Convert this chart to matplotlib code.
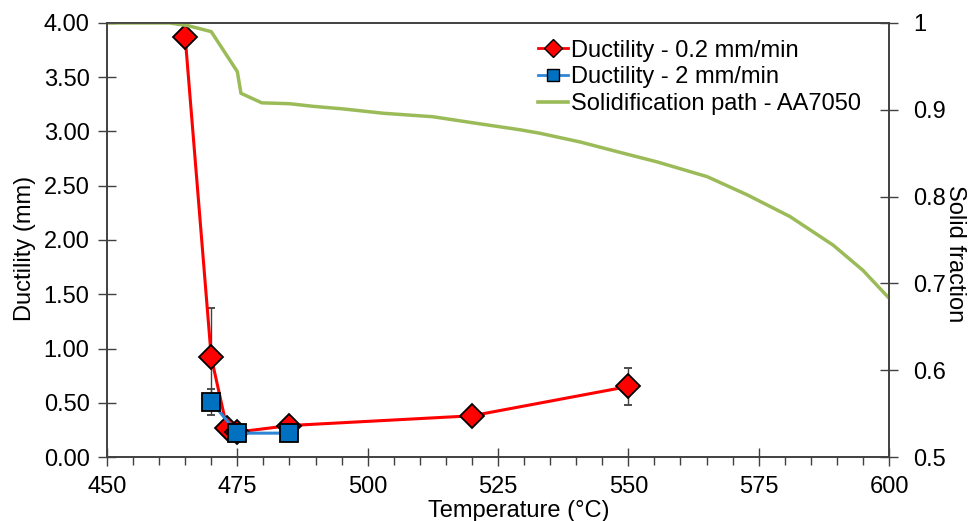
import matplotlib.pyplot as plt
from matplotlib.lines import Line2D
from matplotlib.ticker import MultipleLocator, FormatStrFormatter

plt.rcParams['font.family'] = ['Liberation Sans', 'DejaVu Sans']

# ductility at 0.2 mm/min
t_slow = [465, 470, 473, 475, 485, 520, 550]
d_slow = [3.87, 0.92, 0.27, 0.23, 0.29, 0.38, 0.65]
e_slow = [0, 0.45, 0, 0, 0, 0, 0.17]

# ductility at 2 mm/min
t_fast = [470, 475, 485]
d_fast = [0.51, 0.22, 0.22]
e_fast = [0.12, 0, 0]

# solidification path AA7050
t_sol = [450, 462, 465.5, 470, 475, 475.7, 479.7, 485, 489.5, 495.3, 503, 512.5,
         520.2, 529.2, 533, 540.7, 549, 555.5, 565.1, 572.8, 581, 589.3, 595, 600]
fs_sol = [1.0, 1.0, 0.997, 0.99, 0.944, 0.919, 0.908, 0.907, 0.904, 0.901, 0.896, 0.892,
          0.885, 0.877, 0.873, 0.863, 0.850, 0.840, 0.823, 0.802, 0.777, 0.744, 0.715, 0.683]

red = '#ff0000'
blue_line = '#2f86d6'
blue = '#0070c0'
green = '#9bbb59'

fig = plt.figure(figsize=(9.76, 5.21), dpi=100)
ax = fig.add_axes([0.1096, 0.1228, 0.8013, 0.8331])
ax2 = ax.twinx()

ax.errorbar(t_slow, d_slow, yerr=e_slow, color=red, lw=2.2, marker='D', ms=12,
            mfc=red, mec='black', mew=1.3, ecolor='#404040', elinewidth=1,
            capsize=3, zorder=3)
ax.errorbar(t_fast, d_fast, yerr=e_fast, color=blue_line, lw=2.2, marker='s', ms=13,
            mfc=blue, mec='black', mew=1.3, ecolor='#404040', elinewidth=1,
            capsize=3, zorder=4)
ax2.plot(t_sol, fs_sol, color=green, lw=2.5)

ax.set_xlim(450, 600)
ax.set_ylim(0, 4)
ax2.set_ylim(0.5, 1)
ax.xaxis.set_major_locator(MultipleLocator(25))
ax.xaxis.set_minor_locator(MultipleLocator(5))
ax.yaxis.set_major_locator(MultipleLocator(0.5))
ax.yaxis.set_major_formatter(FormatStrFormatter('%.2f'))
ax2.set_yticks([0.5, 0.6, 0.7, 0.8, 0.9, 1.0])
ax2.set_yticklabels(['0.5', '0.6', '0.7', '0.8', '0.9', '1'])

for a in (ax, ax2):
    for s in a.spines.values():
        s.set_color('#404040')
        s.set_linewidth(1.2)
ax.tick_params(axis='y', which='major', direction='inout', length=13, width=1,
               color='#404040', labelsize=17, pad=6)
ax.tick_params(axis='x', which='major', direction='inout', length=13, width=1,
               color='#404040', labelsize=17, pad=7)
ax.tick_params(axis='x', which='minor', direction='out', length=6, width=1, color='#404040')
ax.tick_params(axis='y', which='minor', length=0)
ax2.tick_params(axis='y', which='major', direction='inout', length=13, width=1,
                color='#404040', labelsize=17, pad=11)
ax2.tick_params(axis='y', which='minor', length=0)

ax.set_xlabel('Temperature (°C)', fontsize=17, labelpad=0)
ax.xaxis.set_label_coords(0.527, -0.1)
ax.set_ylabel('Ductility (mm)', fontsize=17)
ax.yaxis.set_label_coords(-0.091, 0.48)
ax2.set_ylabel('Solid fraction', fontsize=17, rotation=270)
ax2.yaxis.set_label_coords(1.098, 0.468)

handles = [
    Line2D([], [], color=red, lw=2, marker='D', ms=9, mfc=red, mec='black', mew=1),
    Line2D([], [], color=blue_line, lw=2, marker='s', ms=9, mfc=blue, mec='black', mew=1),
    Line2D([], [], color=green, lw=2.6),
]
labels = ['Ductility - 0.2 mm/min', 'Ductility - 2 mm/min', 'Solidification path - AA7050']
ax2.legend(handles, labels, loc='upper right', bbox_to_anchor=(0.985, 1.0), frameon=False,
           fontsize=17, handlelength=1.3, handletextpad=0.1, labelspacing=0.2,
           borderaxespad=0.3)

fig.savefig('out.png', dpi=100)
